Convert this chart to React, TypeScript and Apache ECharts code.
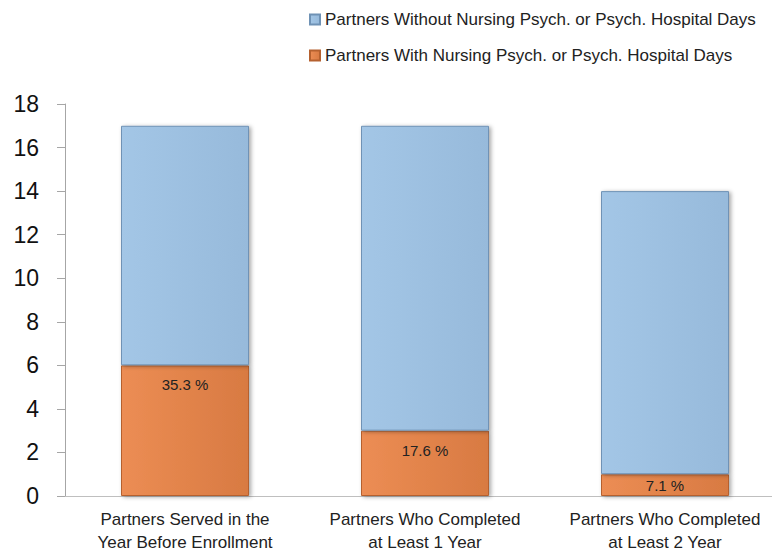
import React, { useEffect, useRef } from "react";
import * as echarts from "echarts";

const categories = [
  "Partners Served in the\nYear Before Enrollment",
  "Partners Who Completed\nat Least 1 Year",
  "Partners Who Completed\nat Least 2 Year",
];
const withDays = [6, 3, 1];
const withoutDays = [11, 14, 13];
const yTicks = { min: 0, max: 18, interval: 2 };
const nameWithout = "Partners Without Nursing Psych. or Psych. Hospital Days";
const nameWith = "Partners With Nursing Psych. or Psych. Hospital Days";

const FONT = "'Liberation Sans', Arial, sans-serif";

export default function App() {
  const ref = useRef<HTMLDivElement>(null);
  useEffect(() => {
    if (!ref.current) return;
    const chart = echarts.init(ref.current, undefined, { renderer: "svg" });
    const orangeFill = new echarts.graphic.LinearGradient(0, 0, 1, 0, [
      { offset: 0, color: "#EC8D54" },
      { offset: 1, color: "#D87A42" },
    ]);
    const blueFill = new echarts.graphic.LinearGradient(0, 0, 1, 0, [
      { offset: 0, color: "#A3C6E6" },
      { offset: 1, color: "#97BADB" },
    ]);
    const withData = withDays.map((v, i) => {
      const total = v + withoutDays[i];
      const pct = ((v / total) * 100).toFixed(1) + " %";
      const small = v < 2;
      return {
        value: v,
        label: {
          formatter: pct,
          position: small ? "inside" : "insideTop",
          distance: small ? 0 : 12,
        },
      };
    });
    chart.setOption({
      animation: false,
      textStyle: { fontFamily: FONT },
      legend: {
        orient: "vertical",
        left: 304,
        top: 6,
        itemWidth: 10,
        itemHeight: 10,
        itemGap: 19,
        icon: "rect",
        data: [nameWithout, nameWith],
        textStyle: { fontSize: 17, color: "#222", fontFamily: FONT },
      },
      grid: { left: 65, width: 720, top: 104, bottom: 58, outerBoundsMode: "none", containLabel: false },
      xAxis: {
        type: "category",
        data: categories,
        axisTick: { show: false },
        axisLine: { lineStyle: { color: "#BFBFBF", width: 1 } },
        axisLabel: {
          interval: 0,
          hideOverlap: false,
          fontSize: 17,
          color: "#222",
          lineHeight: 23,
          margin: 12,
          fontFamily: FONT,
        },
      },
      yAxis: {
        type: "value",
        min: yTicks.min,
        max: yTicks.max,
        interval: yTicks.interval,
        splitLine: { show: false },
        axisLine: { show: true, lineStyle: { color: "#A6A6A6" } },
        axisTick: { show: true, length: 8, lineStyle: { color: "#A6A6A6" } },
        axisLabel: { fontSize: 23, color: "#111", margin: 26, fontFamily: FONT },
      },
      series: [
        {
          name: nameWith,
          type: "bar",
          stack: "total",
          barWidth: 128,
          data: withData,
          itemStyle: {
            color: orangeFill,
            borderColor: "#B5612F",
            borderWidth: 1,
            shadowColor: "rgba(0,0,0,0.35)",
            shadowBlur: 4,
            shadowOffsetX: 2,
            shadowOffsetY: 1,
          },
          label: {
            show: true,
            fontSize: 15,
            color: "#222",
            fontFamily: FONT,
          },
        },
        {
          name: nameWithout,
          type: "bar",
          stack: "total",
          barWidth: 128,
          data: withoutDays,
          itemStyle: {
            color: blueFill,
            borderColor: "#6F92B5",
            borderWidth: 1,
            shadowColor: "rgba(0,0,0,0.35)",
            shadowBlur: 4,
            shadowOffsetX: 2,
            shadowOffsetY: 1,
          },
        },
      ],
    });
    return () => chart.dispose();
  }, []);
  return (
    <div
      ref={ref}
      style={{ position: "fixed", left: 0, top: 0, width: 772, height: 554, background: "#fff", overflow: "hidden" }}
    />
  );
}
